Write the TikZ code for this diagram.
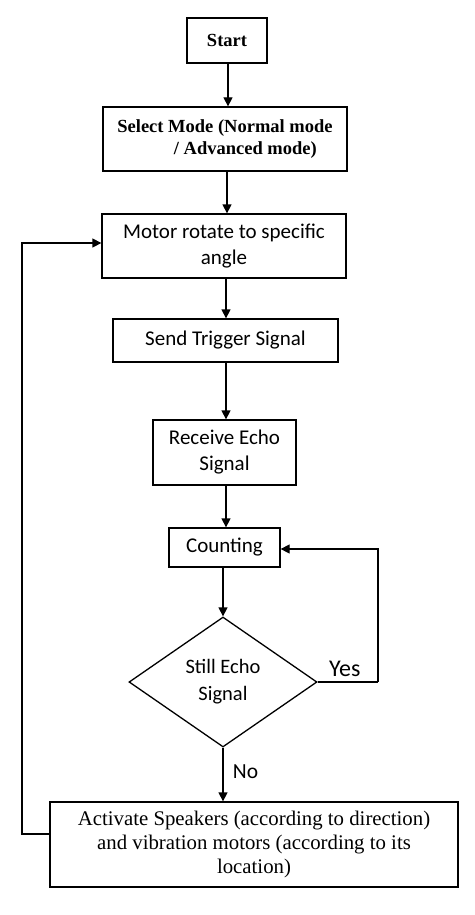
\documentclass[tikz,border=0pt]{standalone}
\usepackage{fontspec}
\setmainfont{Liberation Serif}
\newfontfamily\calib{Carlito}
\usetikzlibrary{arrows.meta,shapes.geometric}
\begin{document}
\begin{tikzpicture}[x=1pt,y=-1pt,
  box/.style={draw, line width=1.3pt, inner sep=0pt},
  serifb/.style={font=\fontsize{18.5}{22}\selectfont\bfseries, align=center},
  sanst/.style={font=\calib\fontsize{21}{26}\selectfont, align=center},
  serifr/.style={font=\fontsize{20.8}{24}\selectfont, align=center},
  lab/.style={font=\calib\fontsize{21.5}{24}\selectfont},
  arr/.style={line width=1.3pt, -{Triangle[length=9pt,width=9pt]}},
  ln/.style={line width=1.3pt}]
\useasboundingbox (0,0) rectangle (474,915);
\fill[white] (0,0) rectangle (474,915);
\node[box, minimum width=80pt, minimum height=45pt, serifb] (start) at (227,40.5) {Start};
\node[box, minimum width=244pt, minimum height=64pt, serifb] (mode) at (225,139) {Select Mode (Normal mode\\\hspace*{2.2em}/ Advanced mode)};
\node[box, minimum width=244pt, minimum height=64pt, sanst] (motor) at (224,246) {Motor rotate to specific\\angle};
\node[box, minimum width=225pt, minimum height=43pt, sanst] (send) at (225.5,340.5) {Send Trigger Signal};
\node[box, minimum width=143pt, minimum height=65pt, sanst] (recv) at (224.5,452.5) {Receive Echo\\Signal};
\node[box, minimum width=111pt, minimum height=39pt, sanst] (count) at (224.5,547.5) {Counting};
\node[box, diamond, minimum width=188pt, minimum height=130pt, inner sep=0pt, sanst, font=\calib\fontsize{20.5}{27}\selectfont] (dec) at (223,682) {Still Echo\\Signal};
\node[box, minimum width=408pt, minimum height=85pt, serifr] (act) at (254,844.5) {Activate Speakers (according to direction)\\and vibration motors (according to its\\location)};
\coordinate (c1) at (378,682);
\coordinate (c2) at (378,549);
\coordinate (d1) at (22,834);
\coordinate (d2) at (22,243);
\draw[arr] (start.south -| 228,0) -- (mode.north -| 228,0);
\draw[arr] (mode.south -| 227,0) -- (motor.north -| 227,0);
\draw[arr] (motor.south -| 226,0) -- (send.north -| 226,0);
\draw[arr] (send.south -| 226,0) -- (recv.north -| 226,0);
\draw[arr] (recv.south -| 226,0) -- (count.north -| 226,0);
\draw[arr] (count.south -| 223,0) -- (dec.north);
\draw[arr] (dec.south) -- (act.north -| 223,0) node[pos=0.45, right=6pt, lab] {No};
\draw[ln] (dec.east) -- (c1) node[pos=0.45, above=1pt, lab, font=\calib\fontsize{24}{26}\selectfont] {Yes};
\draw[arr] (c1) -- (c2) -- (count.east |- c2);
\draw[arr] (act.west |- d1) -- (d1) -- (d2) -- (motor.west |- d2);
\end{tikzpicture}
\end{document}
